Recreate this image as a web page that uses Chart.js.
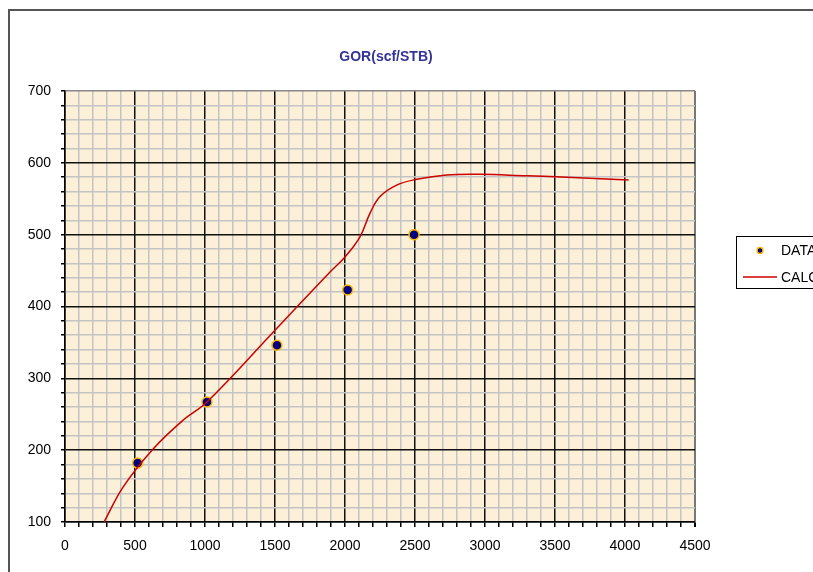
<!DOCTYPE html>
<html>
<head>
<meta charset="utf-8">
<script src="https://cdn.jsdelivr.net/npm/chart.js@4"></script>
<style>
  html, body { margin: 0; padding: 0; background: #fff; }
  canvas { display: block; }
</style>
</head>
<body>
<canvas id="chart1" width="813" height="572"></canvas>
<script>
// measured points (DATA)
const dataX = [519, 1014, 1514, 2019, 2493]
const dataY = [182, 267, 346, 423, 500]

// calculated curve (CALC)
const calcX = [279, 416, 631, 845, 1014, 1500, 1893, 2000, 2107, 2179, 2250, 2369, 2512, 2726, 2964, 3298, 3464, 4026]
const calcY = [100, 149, 202, 242, 267, 367, 448, 469, 497, 530, 553, 569, 577, 583, 584, 582, 581, 576]

const chartTitle = 'GOR(scf/STB)'
const legendLabels = ['DATA', 'CALC']

const font = "'Liberation Sans', Arial, sans-serif"

const toPts = (xs, ys) => xs.map((x, i) => ({x: x, y: ys[i]}))

// background, frame, title and legend
const decor = {
  id: 'decor',
  beforeDraw(chart) {
    const ctx = chart.ctx
    const a = chart.chartArea
    ctx.save()
    ctx.fillStyle = '#fff'
    ctx.fillRect(0, 0, chart.width, chart.height)
    ctx.strokeStyle = '#555'
    ctx.lineWidth = 2
    ctx.strokeRect(9, 10, chart.width + 20, chart.height + 20)
    ctx.fillStyle = '#FCF0D8'
    ctx.fillRect(a.left, a.top, a.right - a.left, a.bottom - a.top)
    ctx.restore()
  },
  afterDraw(chart) {
    const ctx = chart.ctx
    ctx.save()
    ctx.fillStyle = '#333399'
    ctx.font = 'bold 14px ' + font
    ctx.textAlign = 'center'
    ctx.textBaseline = 'middle'
    ctx.fillText(chartTitle, 386, 57)

    // legend box
    ctx.strokeStyle = '#000'
    ctx.lineWidth = 1
    ctx.strokeRect(736.5, 236.5, 120, 52)
    ctx.beginPath()
    ctx.arc(760, 250.5, 3, 0, Math.PI * 2)
    ctx.fillStyle = '#000080'
    ctx.fill()
    ctx.strokeStyle = '#FFB800'
    ctx.lineWidth = 1.5
    ctx.stroke()
    ctx.beginPath()
    ctx.moveTo(743, 277)
    ctx.lineTo(777, 277)
    ctx.strokeStyle = '#CC0000'
    ctx.lineWidth = 1.5
    ctx.stroke()
    ctx.fillStyle = '#000'
    ctx.font = '14px ' + font
    ctx.textAlign = 'left'
    ctx.fillText(legendLabels[0], 781, 251)
    ctx.fillText(legendLabels[1], 781, 278)
    ctx.restore()
  }
}

new Chart(document.getElementById('chart1'), {
  type: 'scatter',
  data: {
    datasets: [
      {
        label: legendLabels[1],
        data: toPts(calcX, calcY),
        showLine: true,
        tension: 0.4,
        borderColor: '#CC0000',
        borderWidth: 1.5,
        pointRadius: 0,
        pointHoverRadius: 0
      },
      {
        label: legendLabels[0],
        data: toPts(dataX, dataY),
        showLine: false,
        pointRadius: 5,
        pointBackgroundColor: '#000080',
        pointBorderColor: '#FFB800',
        pointBorderWidth: 1.5
      }
    ]
  },
  options: {
    responsive: false,
    animation: false,
    devicePixelRatio: 1,
    layout: { padding: { left: 5, top: 91, right: 118, bottom: 10 } },
    plugins: {
      legend: { display: false },
      title: { display: false },
      tooltip: { enabled: false }
    },
    scales: {
      x: {
        type: 'linear',
        min: 0,
        max: 4500,
        afterFit: s => { s.height = 40 },
        ticks: {
          stepSize: 100,
          autoSkip: false,
          maxRotation: 0,
          padding: 11,
          color: '#000',
          font: { family: font, size: 14 },
          callback: v => (v % 500 === 0 ? v : '')
        },
        grid: {
          drawTicks: true,
          tickLength: 5,
          tickColor: '#000',
          color: c => {
            const v = c.tick ? c.tick.value : 0
            if (v === 4500) return '#777'
            return v % 500 === 0 ? '#111' : '#C4C4C4'
          },
          lineWidth: c => (c.tick && c.tick.value === 4500 ? 2 : 1.5)
        },
        border: { color: '#000', width: 1.5 }
      },
      y: {
        type: 'linear',
        min: 100,
        max: 700,
        afterFit: s => { s.width = 60 },
        ticks: {
          stepSize: 20,
          autoSkip: false,
          padding: 10,
          color: '#000',
          font: { family: font, size: 14 },
          callback: v => (Math.round(v) % 100 === 0 ? Math.round(v) : '')
        },
        grid: {
          drawTicks: true,
          tickLength: 4,
          tickColor: '#000',
          color: c => {
            const v = c.tick ? Math.round(c.tick.value) : 0
            if (v === 700) return '#888'
            return v % 100 === 0 ? '#111' : '#C4C4C4'
          },
          lineWidth: 1.5
        },
        border: { color: '#000', width: 1.5 }
      }
    }
  },
  plugins: [decor]
})
</script>
</body>
</html>
